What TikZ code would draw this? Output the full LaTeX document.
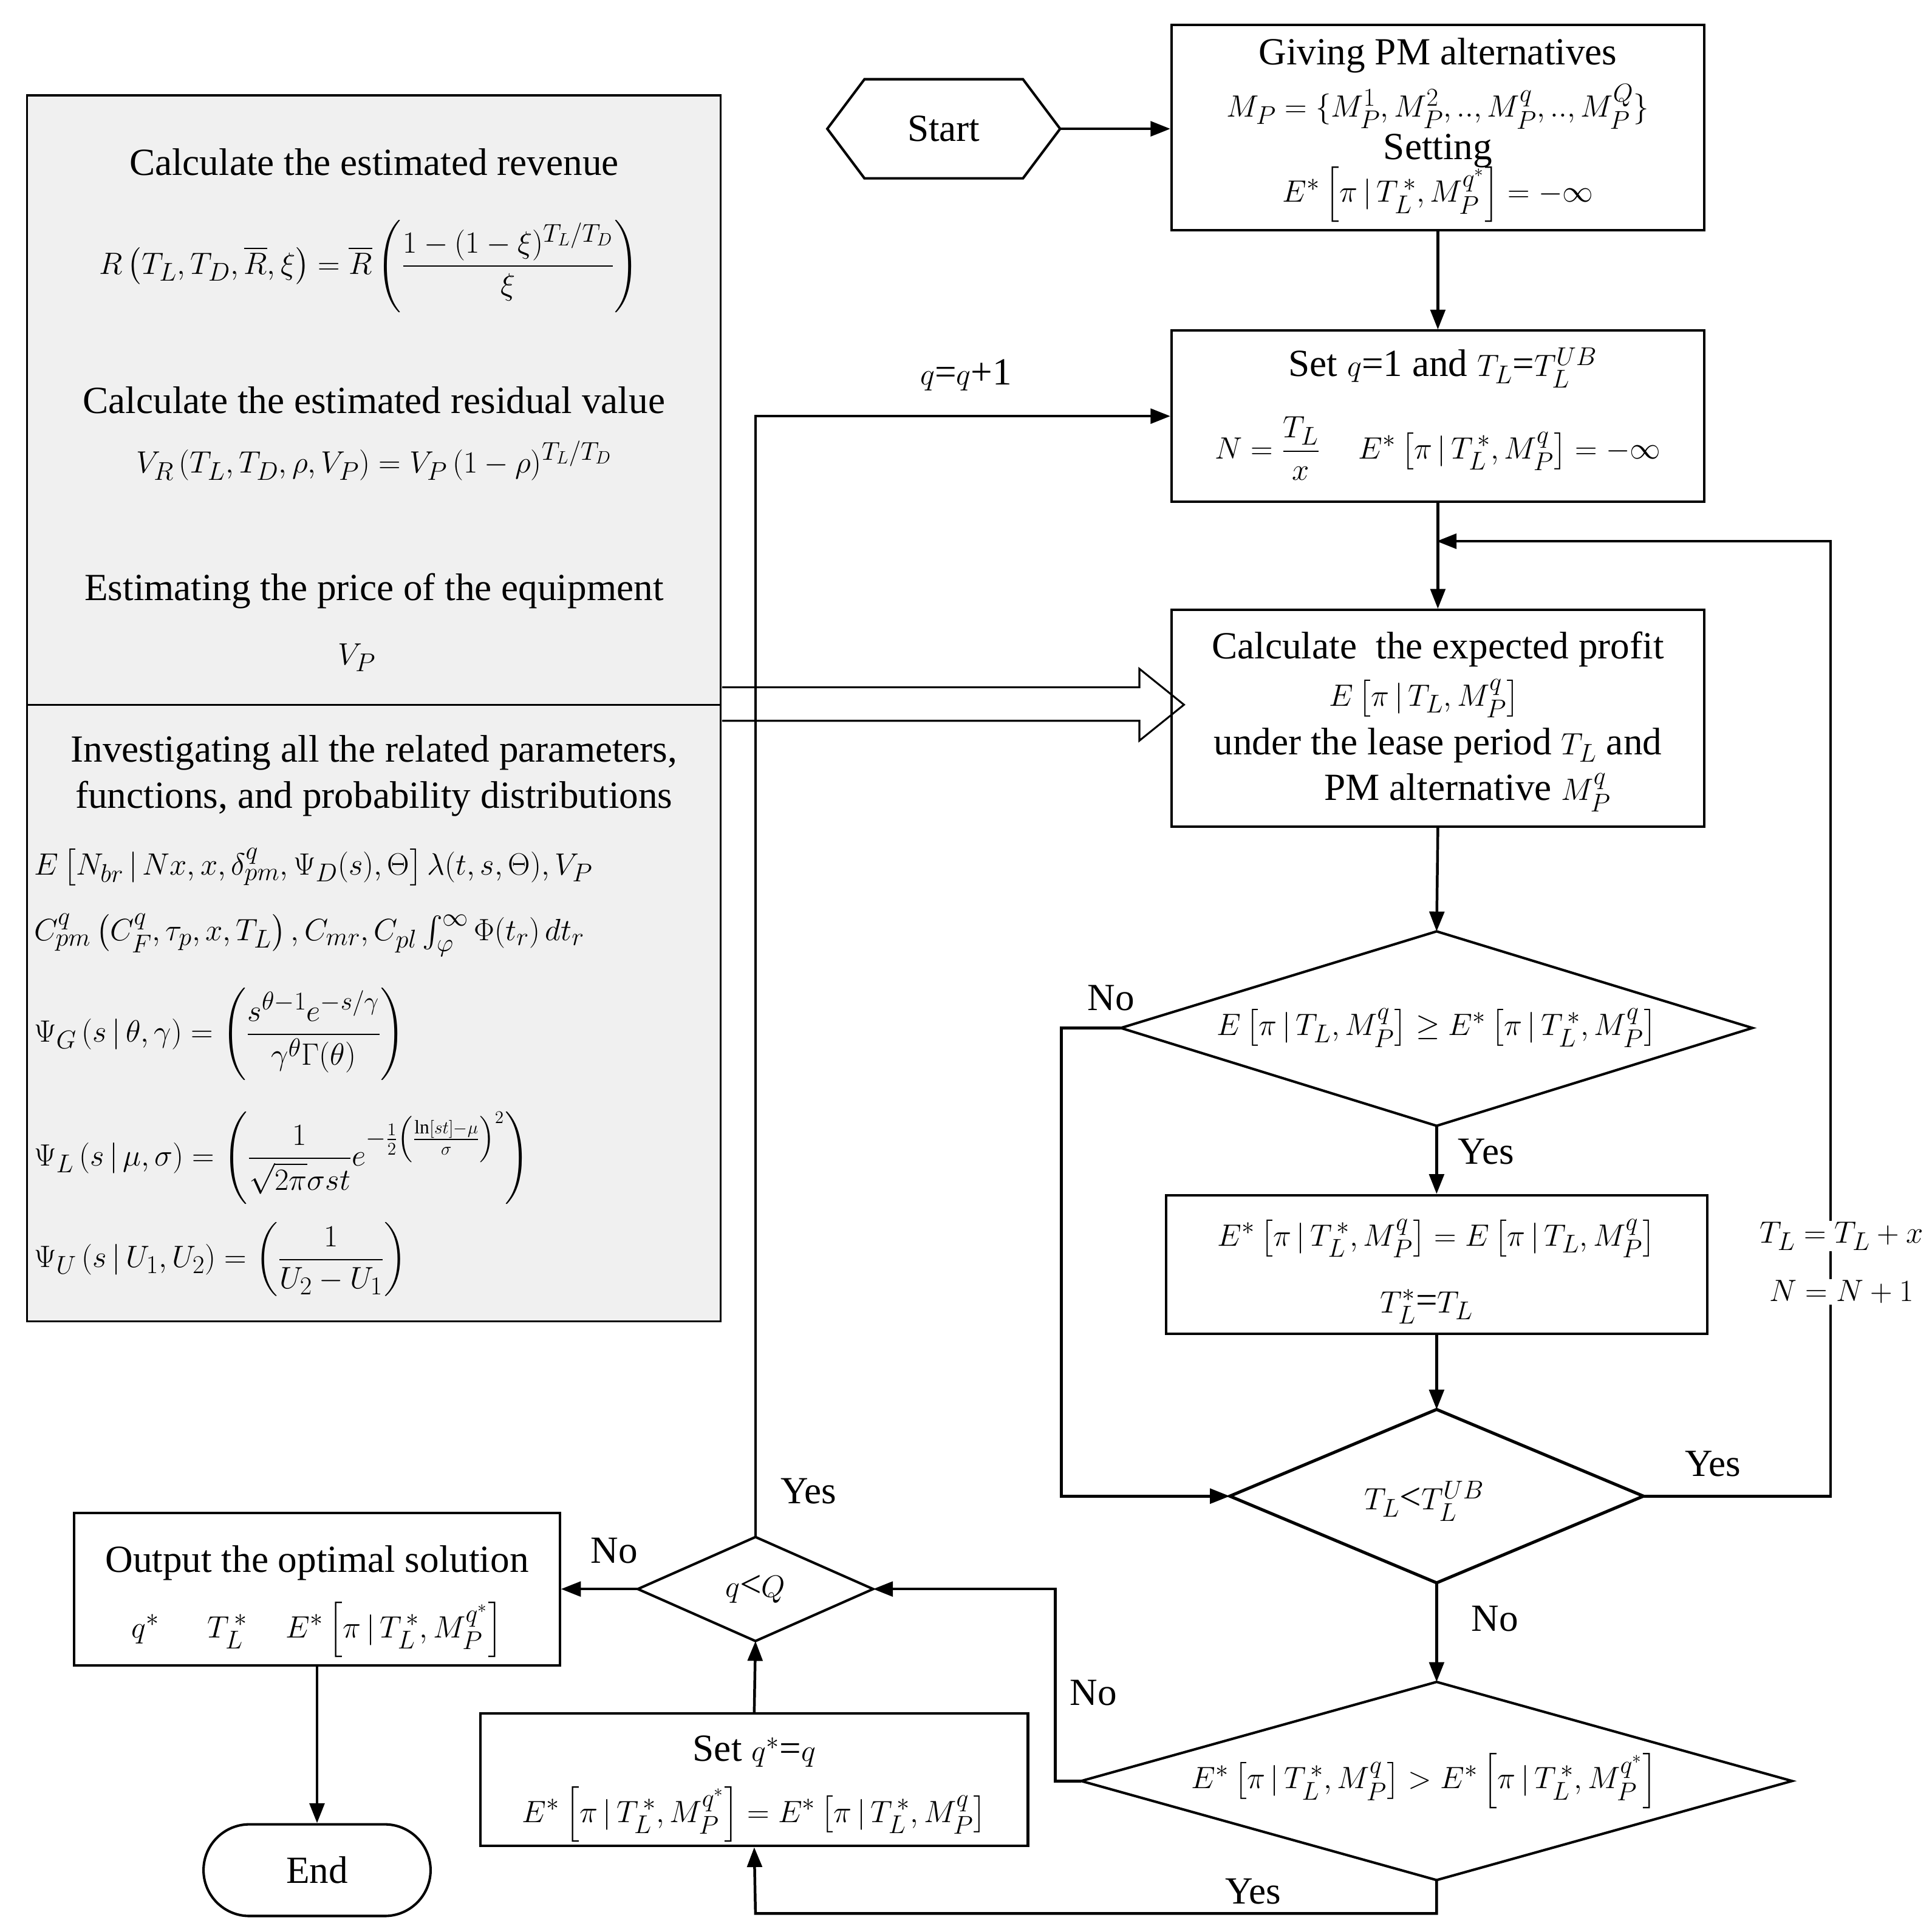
\documentclass[tikz,border=0pt]{standalone}
\usepackage{amsmath}
\usepackage{fontspec}
\setmainfont{Liberation Serif}
\usetikzlibrary{shapes.geometric,shapes.misc,arrows.meta}
\begin{document}
\begin{tikzpicture}[x=1pt,y=-1pt,
  every node/.style={font=\fontsize{31}{37}\selectfont},
  box/.style={draw,line width=2pt,inner sep=0pt},
  ln/.style={line width=2.2pt,-{Triangle[length=16pt,width=12pt]}},
  lbl/.style={inner sep=1pt}]
\useasboundingbox (0,0) rectangle (1560,1555);
% left box
\draw[line width=1.5pt,fill=gray!12] (22,77) rectangle (582,1067);
\draw[line width=1.5pt] (22,569) -- (582,569);
\node (t1) at (302,131) {Calculate the estimated revenue};
\node (f1) at (298,215) {$R\left(T_L,T_D,\overline{R},\xi\right)=\overline{R}\left(\dfrac{1-(1-\xi)^{T_L/T_D}}{\xi}\right)$};
\node (t2) at (302,323) {Calculate the estimated residual value};
\node (f2) at (302,372) {$V_R\left(T_L,T_D,\rho,V_P\right)=V_P\left(1-\rho\right)^{T_L/T_D}$};
\node (t3) at (302,477) {Estimating the price of the equipment};
\node (f3) at (288,531) {$V_P$};
\node (t4) at (302,608) {Investigating all the related parameters,};
\node (t5) at (302,645) {functions, and probability distributions};
\node[anchor=west] (f4) at (24,700) {$E\left[N_{br}\,|\,Nx,x,\delta^q_{pm},\Psi_D(s),\Theta\right]\lambda(t,s,\Theta),V_P$};
\node[anchor=west] (f5) at (24,755) {$C^q_{pm}\left(C^q_F,\tau_p,x,T_L\right),C_{mr},C_{pl}\int_\varphi^\infty\Phi(t_r)\,dt_r$};
\node[anchor=west] (f6) at (24,835) {$\Psi_G\left(s\,|\,\theta,\gamma\right)=\left(\dfrac{s^{\theta-1}e^{-s/\gamma}}{\gamma^\theta\Gamma(\theta)}\right)$};
\node[anchor=west] (f7) at (24,935) {$\Psi_L\left(s\,|\,\mu,\sigma\right)=\left(\dfrac{1}{\sqrt{2\pi}\sigma st}e^{-\frac12\left(\frac{\ln[st]-\mu}{\sigma}\right)^2}\right)$};
\node[anchor=west] (f8) at (24,1017) {$\Psi_U\left(s\,|\,U_1,U_2\right)=\left(\dfrac{1}{U_2-U_1}\right)$};
% hollow arrow
\draw[line width=1.5pt,fill=white] (583,555) -- (920,555) -- (920,540) -- (956,569) -- (920,598) -- (920,582) -- (583,582);
% start
\draw[line width=2pt] (668,104) -- (698,64) -- (826,64) -- (856,104) -- (826,144) -- (698,144) -- cycle;
\node (st) at (762,104) {Start};
\coordinate (sr) at (856,104);
% box1
\node[box,minimum width=430pt,minimum height=166pt] (b1) at (1161,103) {};
\node at (1161,45) {Giving PM alternatives};
\node at (1161,86) {$M_P=\{M_P^1,M_P^2,..,M_P^q,..,M_P^Q\}$};
\node at (1161,122) {Setting};
\node at (1161,157) {$E^*\left[\pi\,|\,T_L^{\,*},M_P^{q^*}\right]=-\infty$};
% box2
\node[box,minimum width=430pt,minimum height=138pt] (b2) at (1161,336) {};
\node at (1165,297) {Set $q$=1 and $T_L$=$T_L^{UB}$};
\node at (1161,362) {$N=\dfrac{T_L}{x}\quad E^*\left[\pi\,|\,T_L^{\,*},M_P^q\right]=-\infty$};
% box3
\node[box,minimum width=430pt,minimum height=175pt] (b3) at (1161,580) {};
\node at (1161,524) {Calculate\ \ the expected profit};
\node at (1150,564) {$E\left[\pi\,|\,T_L,M_P^q\right]$};
\node at (1161,602) {under the lease period $T_L$ and};
\node at (1185,640) {PM alternative $M_P^q$};
% diamond1
\draw[line width=2pt] (905,830) -- (1160,752) -- (1415,830) -- (1160,909) -- cycle;
\node (d1) at (1160,830) {$E\left[\pi\,|\,T_L,M_P^q\right]\geq E^*\left[\pi\,|\,T_L^{\,*},M_P^q\right]$};
\coordinate (d1t) at (1160,752); \coordinate (d1b) at (1160,909); \coordinate (d1l) at (905,830);
% box4
\node[box,minimum width=437pt,minimum height=112pt] (b4) at (1160,1021) {};
\node at (1160,1000) {$E^*\left[\pi\,|\,T_L^{\,*},M_P^q\right]=E\left[\pi\,|\,T_L,M_P^q\right]$};
\node at (1152,1055) {$T_L^*$=$T_L$};
% diamond2
\draw[line width=2.5pt] (993,1208) -- (1160,1138) -- (1327,1208) -- (1160,1278) -- cycle;
\node (d2) at (1150,1212) {$T_L$<$T_L^{UB}$};
\coordinate (d2t) at (1160,1138); \coordinate (d2b) at (1160,1278); \coordinate (d2l) at (993,1208); \coordinate (d2r) at (1327,1208);
% diamond3
\draw[line width=2pt] (873,1438) -- (1160,1358) -- (1447,1438) -- (1160,1518) -- cycle;
\node (d3) at (1150,1438) {$E^*\left[\pi\,|\,T_L^{\,*},M_P^q\right]>E^*\left[\pi\,|\,T_L^{\,*},M_P^{q^*}\right]$};
\coordinate (d3t) at (1160,1358); \coordinate (d3b) at (1160,1518); \coordinate (d3l) at (873,1438);
% box5
\node[box,minimum width=442pt,minimum height=107pt] (b5) at (609,1437) {};
\node at (609,1414) {Set $q^*$=$q$};
\node at (609,1465) {$E^*\left[\pi\,|\,T_L^{\,*},M_P^{q^*}\right]=E^*\left[\pi\,|\,T_L^{\,*},M_P^q\right]$};
% diamond4
\draw[line width=2pt] (515,1283) -- (610,1241) -- (705,1283) -- (610,1325) -- cycle;
\node (d4) at (610,1283) {$q$<$Q$};
\coordinate (d4t) at (610,1241); \coordinate (d4b) at (610,1325); \coordinate (d4l) at (515,1283); \coordinate (d4r) at (705,1283);
% output
\node[box,minimum width=392pt,minimum height=123pt] (out) at (256,1283) {};
\node at (256,1262) {Output the optimal solution};
\node at (256,1316) {$q^*\quad\ T_L^{\,*}\quad E^*\left[\pi\,|\,T_L^{\,*},M_P^{q^*}\right]$};
% end
\node[draw,line width=2pt,rounded rectangle,minimum width=190pt,minimum height=74pt] (end) at (256,1510) {End};
% connectors
\draw[ln] (sr) -- (b1.west|-sr);
\draw[ln] (b1.south) -- (b2.north);
\draw[ln] (b2.south) -- (b3.north);
\draw[ln] (b3.south) -- (d1t);
\draw[ln] (d1b) -- (b4.north);
\draw[ln] (b4.south) -- (d2t);
\draw[ln] (d2b) -- (d3t);
\draw[ln] (d1l) -- (857,830) -- (857,1208) -- (d2l);
\draw[ln] (d2r) -- (1478,1208) -- (1478,437) -- (1160,437);
\draw[ln] (d3l) -- (852,1438) -- (852,1283) -- (d4r);
\draw[ln] (d3b) -- (1160,1545) -- (610,1545) -- (b5.south);
\draw[ln] (b5.north) -- (d4b);
\draw[ln] (d4t) -- (610,336) -- (b2.west);
\draw[ln] (d4l) -- (out.east);
\draw[ln] (out.south) -- (end.north);
% labels
\node[lbl] at (1200,930) {Yes};
\node[lbl] at (897,806) {No};
\node[lbl] at (1383,1182) {Yes};
\node[lbl,fill=white] at (1487,998) {$T_L=T_L+x$};
\node[lbl,fill=white] at (1487,1043) {$N=N+1$};
\node[lbl] at (1207,1307) {No};
\node[lbl] at (883,1367) {No};
\node[lbl] at (1012,1527) {Yes};
\node[lbl] at (653,1204) {Yes};
\node[lbl] at (780,303) {$q$=$q$+1};
\node[lbl] at (496,1252) {No};
\end{tikzpicture}
\end{document}
